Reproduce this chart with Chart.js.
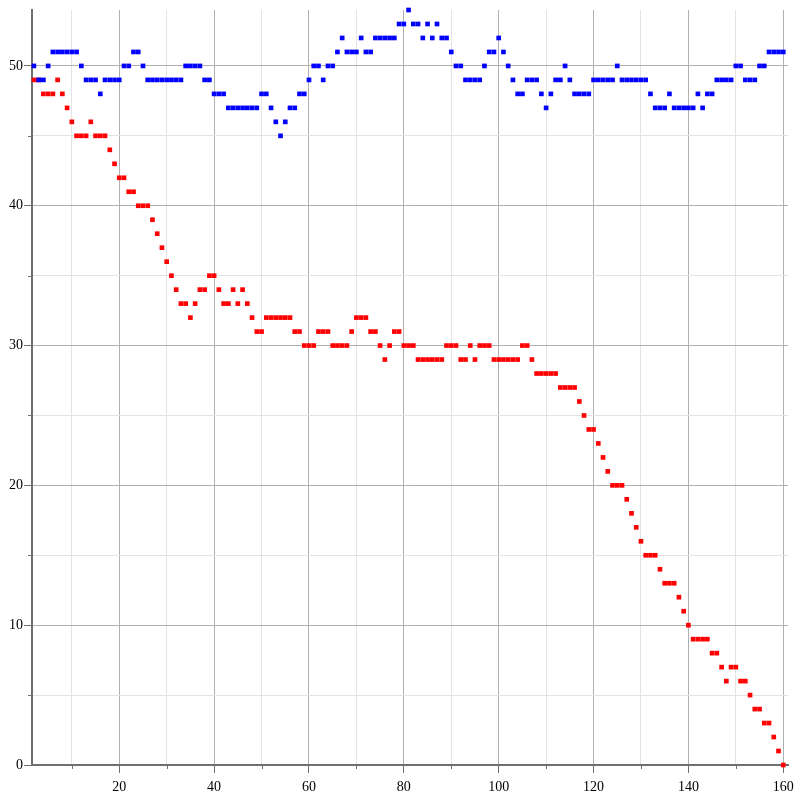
<!DOCTYPE html>
<html>
<head>
<meta charset="utf-8">
<script src="https://cdn.jsdelivr.net/npm/chart.js@4/dist/chart.umd.min.js"></script>
<style>
html,body{margin:0;padding:0;background:#fff;}
#wrap{width:800px;height:800px;}
</style>
</head>
<body>
<div id="wrap"><canvas id="c" width="800" height="800"></canvas></div>
<script>
const xValues = [2,3,4,5,6,7,8,9,10,11,12,13,14,15,16,17,18,19,20,21,22,23,24,25,26,27,28,29,30,31,32,33,34,35,36,37,38,39,40,41,42,43,44,45,46,47,48,49,50,51,52,53,54,55,56,57,58,59,60,61,62,63,64,65,66,67,68,69,70,71,72,73,74,75,76,77,78,79,80,81,82,83,84,85,86,87,88,89,90,91,92,93,94,95,96,97,98,99,100,101,102,103,104,105,106,107,108,109,110,111,112,113,114,115,116,117,118,119,120,121,122,123,124,125,126,127,128,129,130,131,132,133,134,135,136,137,138,139,140,141,142,143,144,145,146,147,148,149,150,151,152,153,154,155,156,157,158,159,160];

const blueValues = [
50,49,49,50,51,51,51,51,51,51,
50,49,49,49,48,49,49,49,49,50,
50,51,51,50,49,49,49,49,49,49,
49,49,50,50,50,50,49,49,48,48,
48,47,47,47,47,47,47,47,48,48,
47,46,45,46,47,47,48,48,49,50,
50,49,50,50,51,52,51,51,51,52,
51,51,52,52,52,52,52,53,53,54,
53,53,52,53,52,53,52,52,51,50,
50,49,49,49,49,50,51,51,52,51,
50,49,48,48,49,49,49,48,47,48,
49,49,50,49,48,48,48,48,49,49,
49,49,49,50,49,49,49,49,49,49,
48,47,47,47,48,47,47,47,47,47,
48,47,48,48,49,49,49,49,50,50,
49,49,49,50,50,51,51,51,51];

const redValues = [
49,49,48,48,48,49,48,47,46,45,
45,45,46,45,45,45,44,43,42,42,
41,41,40,40,40,39,38,37,36,35,
34,33,33,32,33,34,34,35,35,34,
33,33,34,33,34,33,32,31,31,32,
32,32,32,32,32,31,31,30,30,30,
31,31,31,30,30,30,30,31,32,32,
32,31,31,30,29,30,31,31,30,30,
30,29,29,29,29,29,29,30,30,30,
29,29,30,29,30,30,30,29,29,29,
29,29,29,30,30,29,28,28,28,28,
28,27,27,27,27,26,25,24,24,23,
22,21,20,20,20,19,18,17,16,15,
15,15,14,13,13,13,12,11,10,9,
9,9,9,8,8,7,6,7,7,6,
6,5,4,4,3,3,2,1,0];

const xTickLabels = [20,40,60,80,100,120,140,160];
const yTickLabels = [0,10,20,30,40,50];

const AXIS = '#6f6f6f';
const MAJOR = '#b0b0b0';
const MINOR = '#e3e3e3';
const FONT = {family: 'Liberation Serif', size: 14};

function pts(ys){ return xValues.map((x,i)=>({x:x, y:ys[i]})); }

const minorTicks = {
  id: 'minorTicks',
  afterDraw(chart){
    const ctx = chart.ctx, xs = chart.scales.x, ys = chart.scales.y, a = chart.chartArea;
    ctx.save();
    ctx.strokeStyle = AXIS; ctx.lineWidth = 1;
    xs.ticks.forEach(t=>{
      if (!xTickLabels.includes(t.value)) {
        const p = Math.round(xs.getPixelForValue(t.value)) + 0.5;
        ctx.beginPath(); ctx.moveTo(p, a.bottom); ctx.lineTo(p, a.bottom + 4); ctx.stroke();
      }
    });
    ys.ticks.forEach(t=>{
      if (!yTickLabels.includes(t.value)) {
        const p = Math.round(ys.getPixelForValue(t.value)) + 0.5;
        ctx.beginPath(); ctx.moveTo(a.left - 4, p); ctx.lineTo(a.left, p); ctx.stroke();
      }
    });
    ctx.restore();
  }
};

new Chart(document.getElementById('c'), {
  type: 'scatter',
  data: {
    datasets: [
      {data: pts(blueValues), backgroundColor: '#0000ff', borderWidth: 0, pointStyle: 'rect', pointRadius: 3.3, pointHoverRadius: 3.3, clip: false},
      {data: pts(redValues), backgroundColor: '#ff0000', borderWidth: 0, pointStyle: 'rect', pointRadius: 3.3, pointHoverRadius: 3.3, clip: false}
    ]
  },
  options: {
    responsive: false,
    animation: false,
    devicePixelRatio: 1,
    layout: {padding: {top: 10, right: 12, left: 0, bottom: 0}},
    plugins: {legend: {display: false}, tooltip: {enabled: false}},
    scales: {
      x: {
        type: 'linear', min: 1.6, max: 161,
        afterFit: s => { s.height = 35; },
        ticks: {stepSize: 10, includeBounds: false, autoSkip: false, maxRotation: 0, padding: 6, color: '#000', font: FONT,
          callback: v => xTickLabels.includes(v) ? String(v) : ''},
        grid: {
          color: c => (c.tick && xTickLabels.includes(c.tick.value)) ? MAJOR : MINOR,
          tickLength: 8,
          tickColor: c => (c.tick && xTickLabels.includes(c.tick.value)) ? AXIS : 'rgba(0,0,0,0)'
        },
        border: {color: AXIS, width: 2}
      },
      y: {
        type: 'linear', min: 0, max: 54,
        afterFit: s => { s.width = 32; },
        ticks: {stepSize: 5, includeBounds: false, autoSkip: false, padding: 1, color: '#000', font: FONT,
          callback: v => yTickLabels.includes(v) ? String(v) : ''},
        grid: {
          color: c => (c.tick && yTickLabels.includes(c.tick.value)) ? MAJOR : MINOR,
          tickLength: 8,
          tickColor: c => (c.tick && yTickLabels.includes(c.tick.value)) ? AXIS : 'rgba(0,0,0,0)'
        },
        border: {color: AXIS, width: 2}
      }
    }
  },
  plugins: [minorTicks]
});
</script>
</body>
</html>
